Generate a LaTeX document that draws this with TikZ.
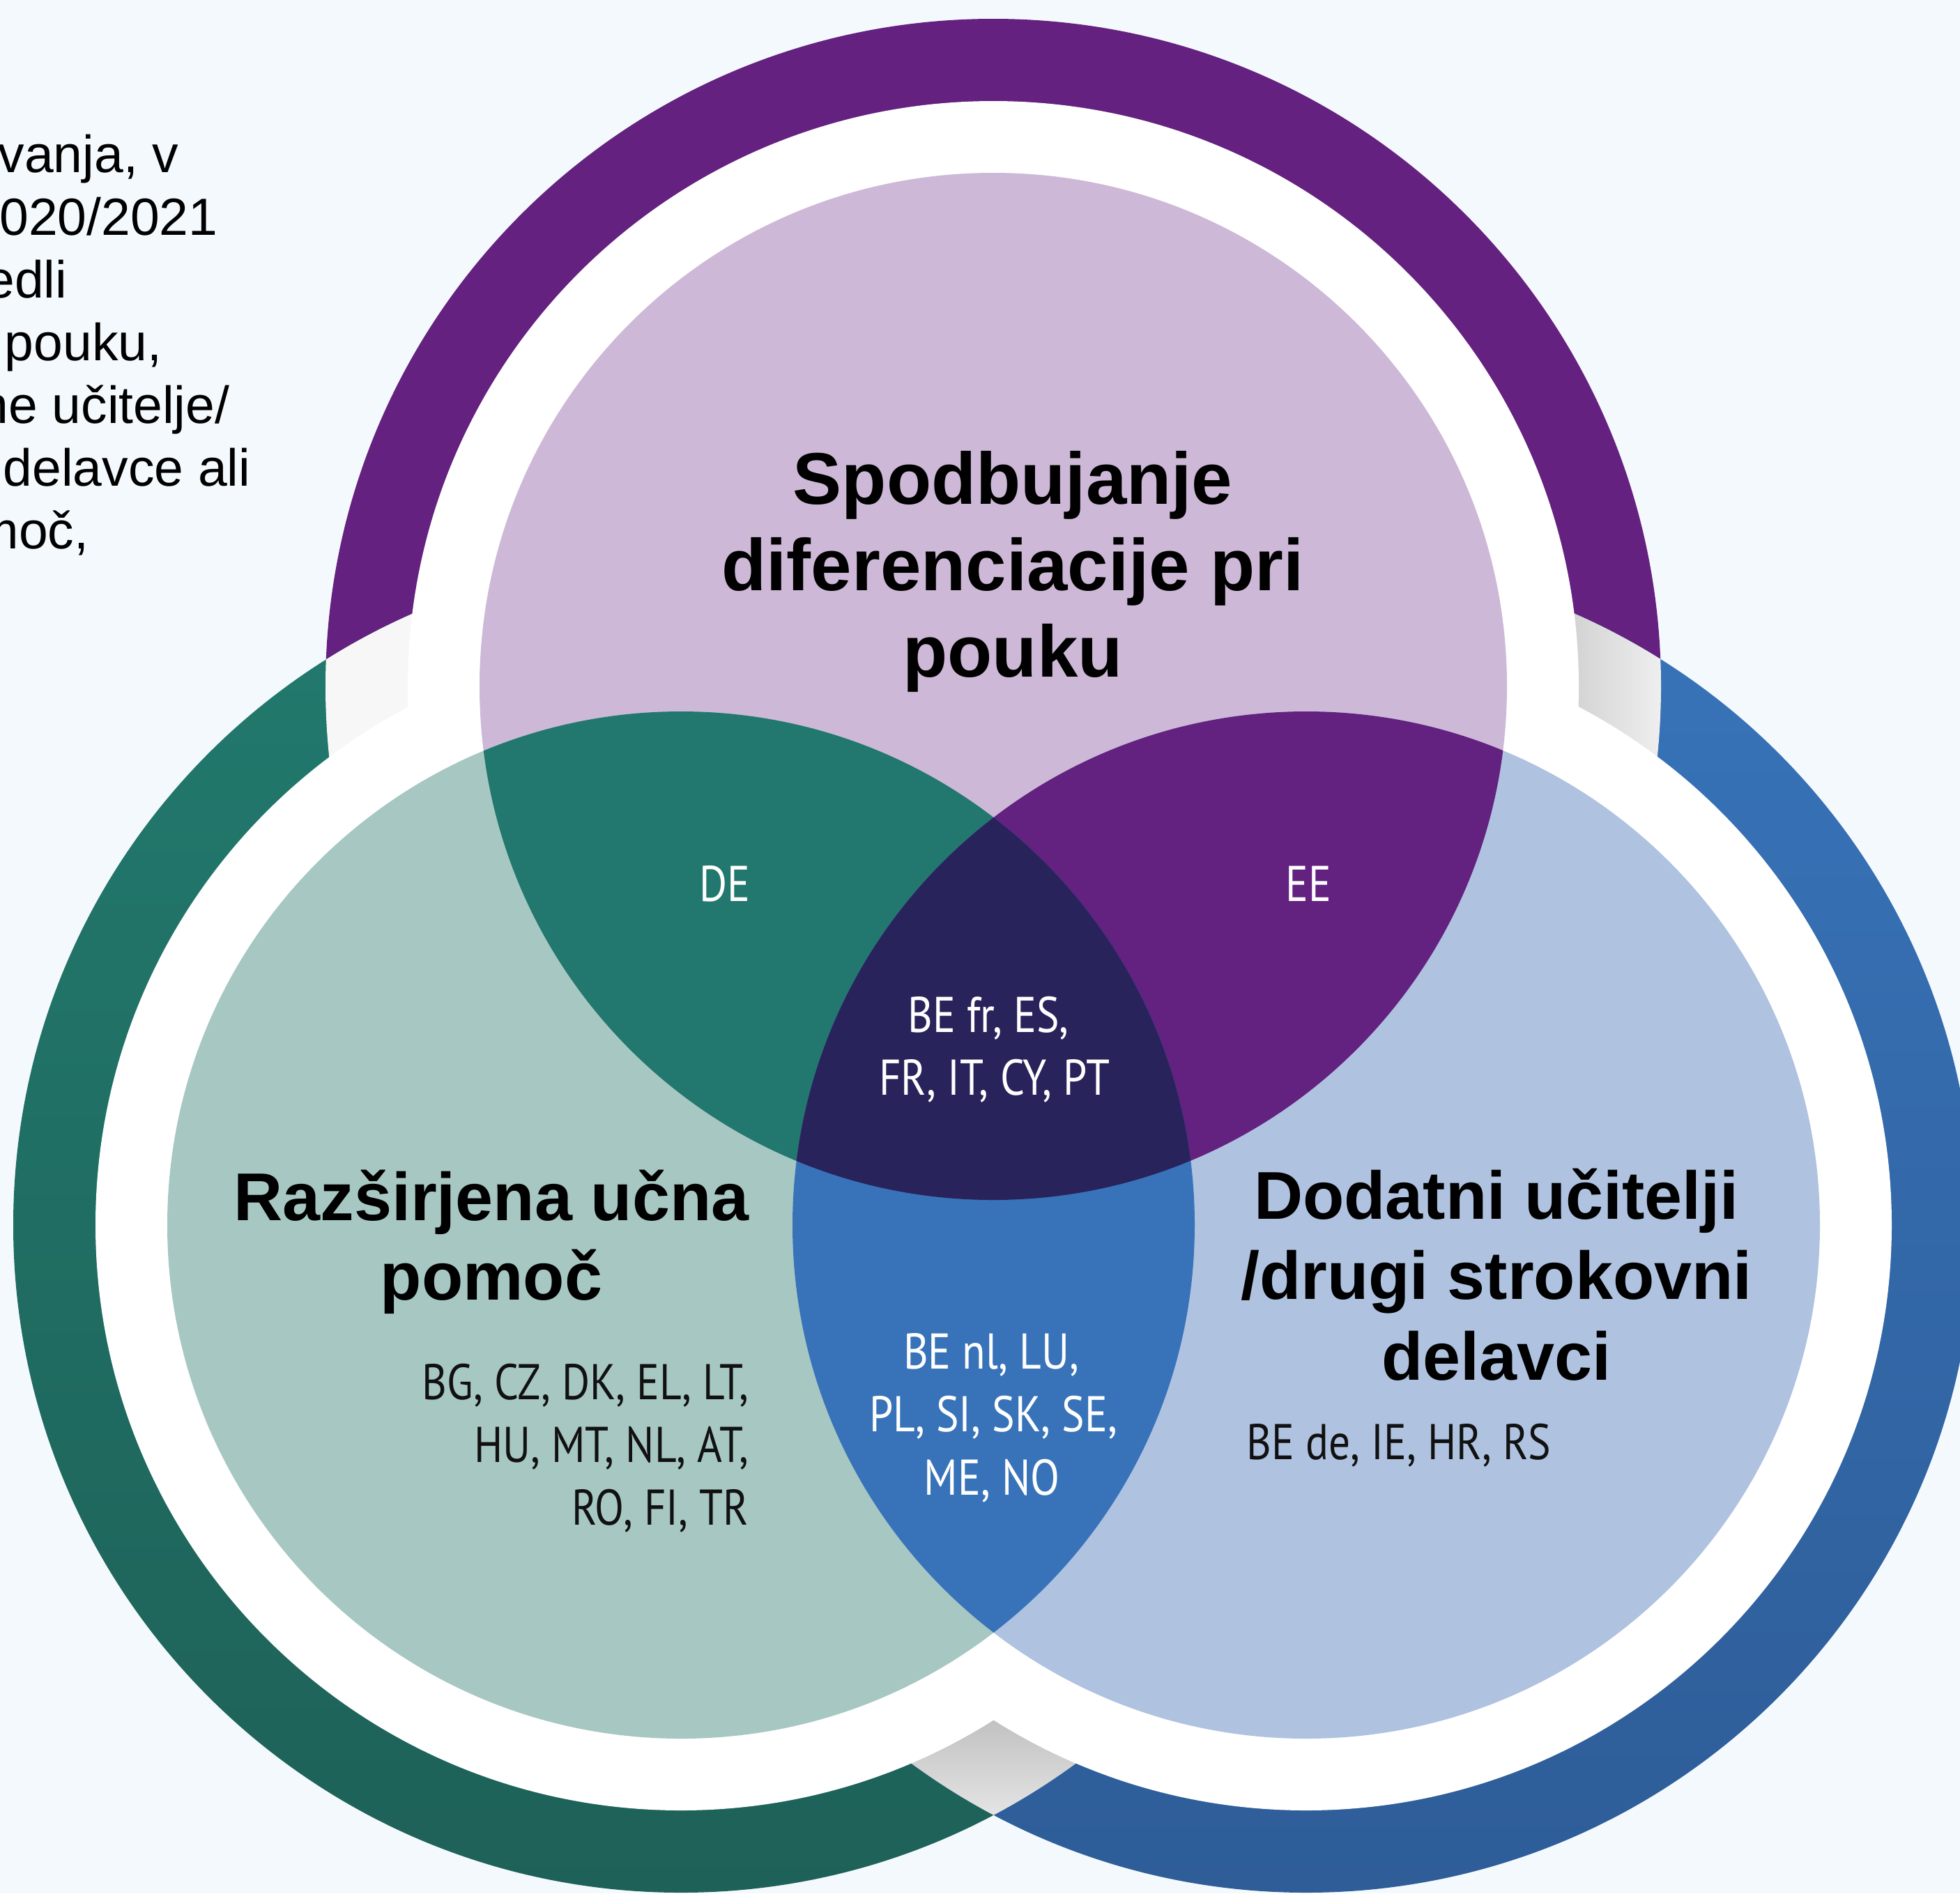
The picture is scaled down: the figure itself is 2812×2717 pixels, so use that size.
\documentclass[tikz,border=0pt]{standalone}
\usepackage{fontspec}
\setmainfont{Liberation Sans}
\newfontfamily\cfont[FakeStretch=0.85]{PT Sans}
\definecolor{bg}{HTML}{F4F9FD}
\definecolor{ringP}{HTML}{64217F}
\definecolor{ringT}{HTML}{227A6E}
\definecolor{ringTd}{HTML}{1E6158}
\definecolor{ringB}{HTML}{3874BA}
\definecolor{ringBd}{HTML}{2E5D98}
\definecolor{inP}{HTML}{CDB8D7}
\definecolor{inT}{HTML}{A7C7C2}
\definecolor{inB}{HTML}{AFC2E0}
\definecolor{lensTL}{HTML}{22786E}
\definecolor{lensTR}{HTML}{632180}
\definecolor{lensLR}{HTML}{3873B9}
\definecolor{lensC}{HTML}{29235C}
\definecolor{txt}{HTML}{111111}
\tikzset{
  para/.style={font=\fontsize{21.34pt}{25pt}\selectfont, anchor=base east, inner sep=0pt, text=black},
  ttop/.style={font=\bfseries\fontsize{29.87pt}{35pt}\selectfont, anchor=base, inner sep=0pt, text=black},
  tside/.style={font=\bfseries\fontsize{27.6pt}{33pt}\selectfont, anchor=base, inner sep=0pt, text=black},
  cty/.style={font=\cfont\fontsize{20.5pt}{24pt}\selectfont, inner sep=0pt},
}
\begin{document}
\begin{tikzpicture}[x=0.01cm, y=-0.01cm]
\useasboundingbox (0,0) rectangle (2812,2717);
\clip (0,0) rectangle (2812,2717);
\fill[bg] (0,0) rectangle (2812,2717);
\coordinate (ct) at (1425,985);
\coordinate (cl) at (977,1758);
\coordinate (cr) at (1874,1758);
% outer coloured rings
\fill[ringP] (ct) circle[radius=958];
\shade[top color=ringT, middle color=ringT, bottom color=ringTd] (cl) circle[radius=958];
\shade[top color=ringB, middle color=ringB, bottom color=ringBd] (cr) circle[radius=958];
% overlaps of outer rings
\begin{scope}
  \clip (ct) circle[radius=958];
  \fill[white!97!black] (cl) circle[radius=958];
\end{scope}
\begin{scope}
  \clip (ct) circle[radius=958];
  \clip (cr) circle[radius=958];
  \shade[left color=white!77!black, right color=white!95!black] (2190,700) rectangle (2400,1200);
\end{scope}
\begin{scope}
  \clip (cl) circle[radius=958];
  \clip (cr) circle[radius=958];
  \shade[top color=white!74!black, bottom color=white!93!black] (1200,2450) rectangle (1650,2640);
\end{scope}
% white rings
\fill[white] (ct) circle[radius=840];
\fill[white] (cl) circle[radius=840];
\fill[white] (cr) circle[radius=840];
% inner circles
\fill[inP] (ct) circle[radius=737];
\fill[inT] (cl) circle[radius=737];
\fill[inB] (cr) circle[radius=737];
\begin{scope}
  \clip (ct) circle[radius=737];
  \fill[lensTL] (cl) circle[radius=737];
  \fill[lensTR] (cr) circle[radius=737];
\end{scope}
\begin{scope}
  \clip (cl) circle[radius=737];
  \fill[lensLR] (cr) circle[radius=737];
\end{scope}
\begin{scope}
  \clip (ct) circle[radius=737];
  \clip (cl) circle[radius=737];
  \fill[lensC] (cr) circle[radius=737];
\end{scope}
% left paragraph fragments
\node[para] (p1) at (257,247) {vanja, v};
\node[para] (p2) at (313,337) {020/2021};
\node[para] (p3) at (97,427) {edli};
\node[para] (p4) at (233,517) {pouku,};
\node[para] (p5) at (330,607) {ne učitelje/};
\node[para] (p6) at (360,697) {delavce ali};
\node[para] (p7) at (128,787) {moč,};
% titles
\node[ttop] (tt1) at (1453,723) {Spodbujanje};
\node[ttop] (tt2) at (1453,847) {diferenciacije pri};
\node[ttop] (tt3) at (1453,971) {pouku};
\node[tside] (tl1) at (705,1751) {Razširjena učna};
\node[tside] (tl2) at (705,1865) {pomoč};
\node[tside] (tr1) at (2147,1749) {Dodatni učitelji};
\node[tside] (tr2) at (2147,1864) {/drugi strokovni};
\node[tside] (tr3) at (2147,1980) {delavci};
% country lists
\node[cty, text=white, anchor=base] (de) at (1040,1293) {DE};
\node[cty, text=white, anchor=base] (ee) at (1877,1293) {EE};
\node[cty, text=white, anchor=base] (c1) at (1418,1481) {BE fr, ES,};
\node[cty, text=white, anchor=base] (c2) at (1427,1571) {FR, IT, CY, PT};
\node[cty, text=white, anchor=base] (b1) at (1422,1964) {BE nl, LU,};
\node[cty, text=white, anchor=base] (b2) at (1425,2054) {PL, SI, SK, SE,};
\node[cty, text=white, anchor=base] (b3) at (1423,2145) {ME, NO};
\node[cty, text=txt, anchor=base east] (l1) at (1075,2008) {BG, CZ, DK, EL, LT,};
\node[cty, text=txt, anchor=base east] (l2) at (1075,2098) {HU, MT, NL, AT,};
\node[cty, text=txt, anchor=base east] (l3) at (1075,2188) {RO, FI, TR};
\node[cty, text=txt, anchor=base west] (r1) at (1788,2094) {BE de, IE, HR, RS};
\end{tikzpicture}
\end{document}
